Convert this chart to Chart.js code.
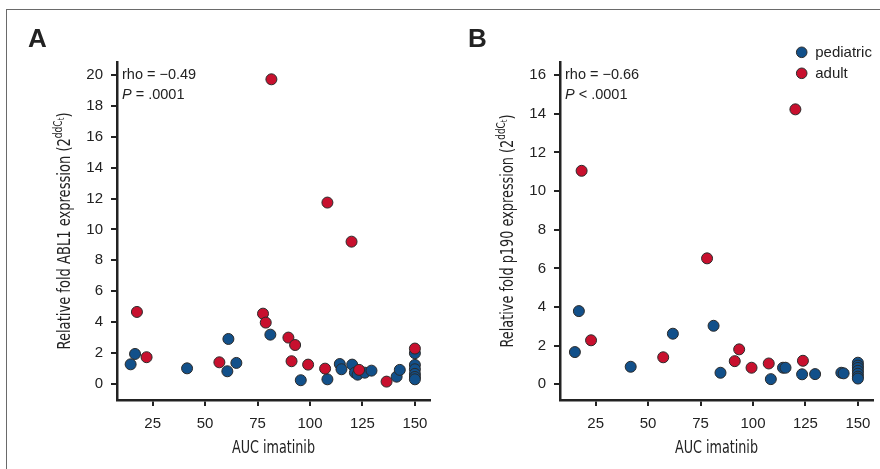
<!DOCTYPE html>
<html>
<head>
<meta charset="utf-8">
<script src="https://cdn.jsdelivr.net/npm/chart.js@4.4.1/dist/chart.umd.min.js"></script>
<style>
  html, body { margin: 0; padding: 0; background: #fff; }
  body { width: 880px; height: 469px; position: relative; overflow: hidden; }
  .frame { position: absolute; left: 6px; top: 9px; width: 900px; height: 500px;
           border-top: 1.5px solid #6a6a6a; border-left: 1.5px solid #6a6a6a; }
  canvas { position: absolute; top: 0; }
  #cA { left: 0; }
  #cB { left: 440px; }
</style>
</head>
<body>
<div class="frame"></div>
<canvas id="cA" width="440" height="469"></canvas>
<canvas id="cB" width="440" height="469"></canvas>
<script>
// ---- data ----
const seriesNames = ["pediatric", "adult"];
const xTicks = [25, 50, 75, 100, 125, 150];
const yTicksA = [0, 2, 4, 6, 8, 10, 12, 14, 16, 18, 20];
const yTicksB = [0, 2, 4, 6, 8, 10, 12, 14, 16];

const pedAX = [14.5, 16.6, 41.4, 61.1, 60.6, 64.9, 81.1, 95.6, 108.3, 114.2, 115.0, 120.1, 121.4, 122.7, 126.1, 129.3, 141.3, 142.8, 150, 150, 150, 150, 150, 150];
const pedAY = [1.27, 1.94, 1.01, 2.91, 0.82, 1.36, 3.19, 0.24, 0.30, 1.29, 0.95, 1.25, 0.73, 0.60, 0.73, 0.86, 0.47, 0.91, 1.99, 1.23, 0.95, 0.65, 0.45, 0.30];
const adultAX = [17.5, 22.1, 56.8, 77.6, 78.9, 81.6, 89.7, 92.9, 91.2, 99.1, 107.2, 108.3, 119.8, 123.4, 136.5, 150];
const adultAY = [4.66, 1.73, 1.40, 4.55, 3.97, 19.72, 3.00, 2.52, 1.47, 1.25, 0.99, 11.74, 9.21, 0.91, 0.15, 2.29];

const pedBX = [15.1, 17.0, 41.7, 61.8, 81.2, 84.5, 108.5, 114.3, 115.5, 123.4, 129.6, 142.1, 143.2, 150, 150, 150, 150, 150, 150, 150];
const pedBY = [1.67, 3.79, 0.91, 2.62, 3.03, 0.60, 0.27, 0.86, 0.86, 0.52, 0.53, 0.60, 0.57, 1.12, 0.97, 0.85, 0.70, 0.55, 0.40, 0.30];
const adultBX = [18.3, 22.8, 57.2, 78.1, 91.3, 93.4, 99.3, 107.5, 120.2, 123.8];
const adultBY = [11.05, 2.28, 1.40, 6.52, 1.20, 1.81, 0.86, 1.08, 14.23, 1.22];

const statsA = { rho: "rho = \u22120.49", p: "= .0001" };
const statsB = { rho: "rho = \u22120.66", p: "< .0001" };

// ---- styles ----
const BLUE = "#12508a";
const RED = "#c8102e";
const EDGE = "#2a2a2a";
const INK = "#222222";
const SANS = "'Liberation Sans', Arial, Helvetica, sans-serif";
const NARROW = "'Liberation Sans Narrow', 'DejaVu Sans Condensed', 'Liberation Sans', sans-serif";

function pts(xs, ys) { return xs.map((x, i) => ({ x: x, y: ys[i] })); }

function drawFitted(ctx, parts, targetW) {
  let total = 0;
  parts.forEach(p => { ctx.font = p.font; p.w = ctx.measureText(p.text).width; total += p.w; });
  const s = targetW / total;
  ctx.save();
  ctx.scale(s, 1);
  let x = -total / 2;
  parts.forEach(p => { ctx.font = p.font; ctx.fillText(p.text, x, p.dy || 0); x += p.w; });
  ctx.restore();
}

function makeDecor(cfg) {
  return {
    id: 'decor',
    afterDraw(chart) {
      const ctx = chart.ctx, a = chart.chartArea;
      ctx.save();
      ctx.fillStyle = INK;
      ctx.textBaseline = 'alphabetic';
      ctx.font = "bold 26px " + SANS;
      ctx.textAlign = 'left';
      ctx.fillText(cfg.letter, cfg.letterX, 47);
      ctx.font = "14.5px " + SANS;
      ctx.fillText(cfg.stats.rho, a.left + 5, 79);
      ctx.font = "italic 14.5px " + SANS;
      ctx.fillText("P", a.left + 5, 99);
      const pw = ctx.measureText("P ").width;
      ctx.font = "14.5px " + SANS;
      ctx.fillText(cfg.stats.p, a.left + 5 + pw, 99);
      // x title
      ctx.save();
      ctx.translate((a.left + a.right) / 2, 453);
      drawFitted(ctx, [{ text: "AUC imatinib", font: "18px " + NARROW }], 83);
      ctx.restore();
      // y title
      ctx.save();
      ctx.translate(a.left - 53 + 6, (a.top + a.bottom) / 2);
      ctx.rotate(-Math.PI / 2);
      drawFitted(ctx, [
        { text: cfg.yTitle + " (2", font: "18px " + NARROW },
        { text: "ddC", font: "12.5px " + NARROW, dy: -8 },
        { text: "t", font: "9.5px " + NARROW, dy: -6 },
        { text: ")", font: "18px " + NARROW }
      ], cfg.yTitleW);
      ctx.restore();
      if (cfg.legend) {
        const items = [[seriesNames[0], BLUE, 52.3], [seriesNames[1], RED, 73.3]];
        items.forEach(([name, col, y]) => {
          ctx.beginPath();
          ctx.arc(cfg.legendX, y, 5.3, 0, Math.PI * 2);
          ctx.fillStyle = col; ctx.fill();
          ctx.lineWidth = 1; ctx.strokeStyle = EDGE; ctx.stroke();
          ctx.fillStyle = INK;
          ctx.font = "15px " + SANS;
          ctx.textBaseline = 'middle';
          ctx.fillText(name, cfg.legendX + 13.5, y + 0.5);
        });
      }
      ctx.restore();
    }
  };
}

function makeChart(id, pedX, pedY, adX, adY, yMin, yMax, yTicks, yWidth, padRight, decor) {
  return new Chart(document.getElementById(id), {
    type: 'scatter',
    data: {
      datasets: [
        { label: seriesNames[1], data: pts(adX, adY), backgroundColor: RED, borderColor: EDGE,
          borderWidth: 1, pointRadius: 5.5, order: 0 },
        { label: seriesNames[0], data: pts(pedX, pedY), backgroundColor: BLUE, borderColor: EDGE,
          borderWidth: 1, pointRadius: 5.5, order: 1 }
      ]
    },
    options: {
      responsive: false,
      devicePixelRatio: 1,
      animation: false,
      layout: { padding: { top: 62, right: padRight, bottom: 0, left: 0 } },
      plugins: { legend: { display: false }, tooltip: { enabled: false } },
      scales: {
        x: {
          type: 'linear', min: 8, max: 157.2,
          afterBuildTicks: s => { s.ticks = xTicks.map(v => ({ value: v })); },
          afterFit: s => { s.height = 69; },
          grid: { display: true, drawOnChartArea: false, drawTicks: true, tickLength: 6, color: INK, lineWidth: 2 },
          border: { display: true, color: INK, width: 2.5 },
          ticks: { font: { family: SANS, size: 15 }, color: INK, padding: 9, maxRotation: 0 }
        },
        y: {
          type: 'linear', min: yMin, max: yMax,
          afterBuildTicks: s => { s.ticks = yTicks.map(v => ({ value: v })); },
          afterFit: s => { s.width = yWidth; },
          grid: { display: true, drawOnChartArea: false, drawTicks: true, tickLength: 6, color: INK, lineWidth: 2 },
          border: { display: true, color: INK, width: 2.5 },
          ticks: { font: { family: SANS, size: 15 }, color: INK, padding: 8 }
        }
      }
    },
    plugins: [decor]
  });
}

makeChart('cA', pedAX, pedAY, adultAX, adultAY, -1.04, 20.84, yTicksA, 117, 10,
  makeDecor({ letter: "A", letterX: 28, stats: statsA, yTitle: "Relative fold ABL1 expression", yTitleW: 237, legend: false }));
makeChart('cB', pedBX, pedBY, adultBX, adultBY, -0.81, 16.68, yTicksB, 120, 7,
  makeDecor({ letter: "B", letterX: 28, stats: statsB, yTitle: "Relative fold p190 expression", yTitleW: 233, legend: true, legendX: 361.7 }));
</script>
</body>
</html>
